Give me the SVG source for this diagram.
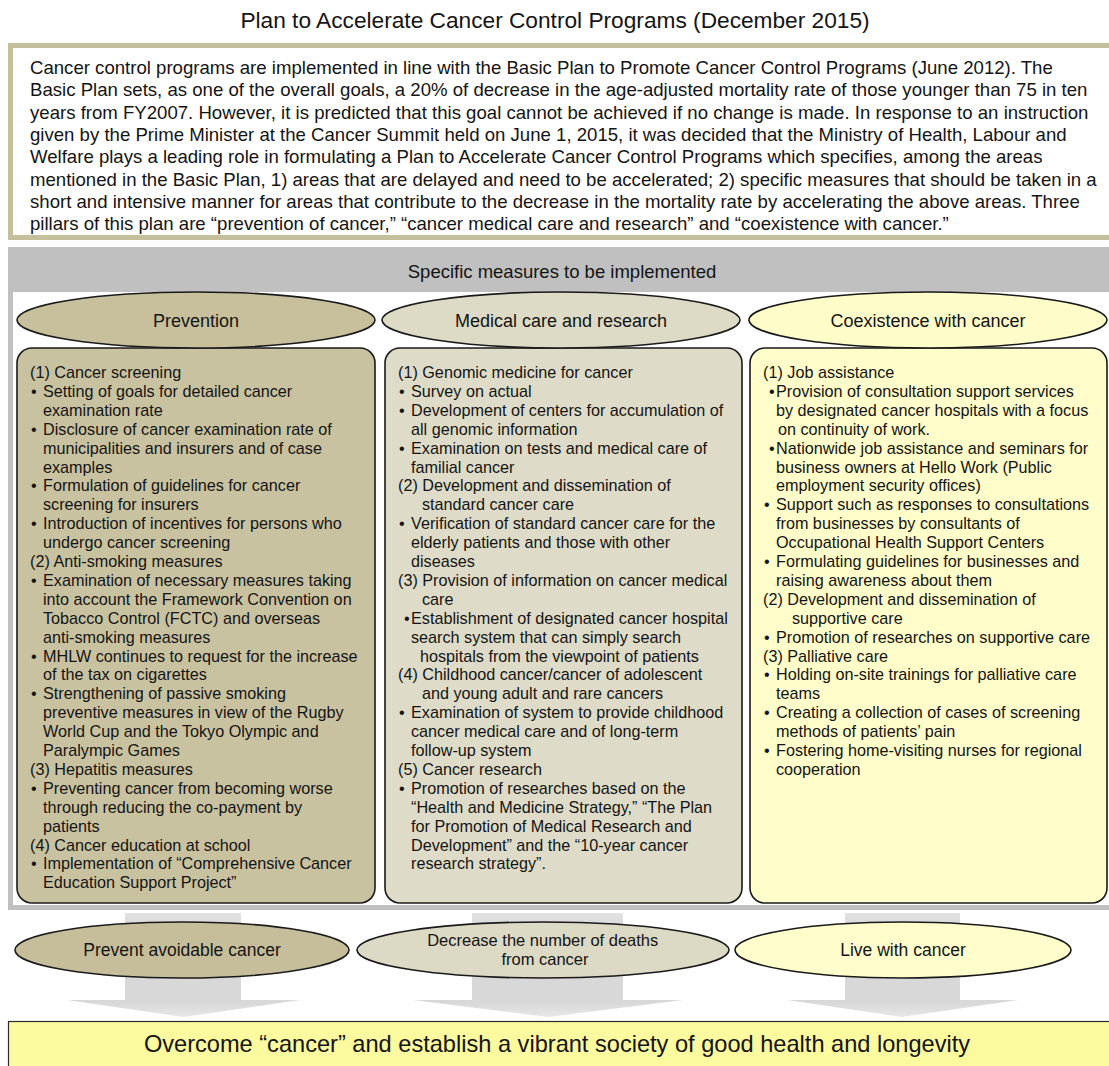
<svg xmlns="http://www.w3.org/2000/svg" width="1109" height="1066" viewBox="0 0 1109 1066">
  <defs>
    <style>
      .t { font-family: "Liberation Sans", Arial, sans-serif; fill: #141414; }
      .title { font-size: 22.7px; }
      .intro { font-size: 18.6px; }
      .hdr { font-size: 18.5px; }
      .pill { font-size: 18px; }
      .body { font-size: 16.2px; }
      .goal { font-size: 17.5px; }
      .goal2 { font-size: 16.5px; }
      .final { font-size: 23.6px; }
      .ell { stroke: #1a1a1a; stroke-width: 1.6; }
      .box { stroke: #1a1a1a; stroke-width: 1.6; }
      .arrow { fill: url(#arrowFill); }
    </style>
    <linearGradient id="arrowFill" x1="0" y1="0" x2="0" y2="1">
      <stop offset="0" stop-color="#e2e2e2"/>
      <stop offset="0.15" stop-color="#d8d8d8"/>
      <stop offset="0.85" stop-color="#d8d8d8"/>
      <stop offset="1" stop-color="#e6e6e6"/>
    </linearGradient>
  </defs>

  <rect x="0" y="0" width="1109" height="1066" fill="#ffffff"/>

  <!-- heading -->
  <text class="t title" x="555" y="28" text-anchor="middle">Plan to Accelerate Cancer Control Programs (December 2015)</text>

  <!-- summary paragraph -->
  <g id="summary">
    <rect x="10.5" y="45.5" width="1110" height="192" fill="#ffffff" stroke="#c6bf9b" stroke-width="5"/>
    <text class="t intro">
      <tspan x="30" y="74">Cancer control programs are implemented in line with the Basic Plan to Promote Cancer Control Programs (June 2012). The</tspan>
      <tspan x="30" y="96.3">Basic Plan sets, as one of the overall goals, a 20% of decrease in the age-adjusted mortality rate of those younger than 75 in ten</tspan>
      <tspan x="30" y="118.6">years from FY2007. However, it is predicted that this goal cannot be achieved if no change is made. In response to an instruction</tspan>
      <tspan x="30" y="140.9">given by the Prime Minister at the Cancer Summit held on June 1, 2015, it was decided that the Ministry of Health, Labour and</tspan>
      <tspan x="30" y="163.2">Welfare plays a leading role in formulating a Plan to Accelerate Cancer Control Programs which specifies, among the areas</tspan>
      <tspan x="30" y="185.5">mentioned in the Basic Plan, 1) areas that are delayed and need to be accelerated; 2) specific measures that should be taken in a</tspan>
      <tspan x="30" y="207.8">short and intensive manner for areas that contribute to the decrease in the mortality rate by accelerating the above areas. Three</tspan>
      <tspan x="30" y="230.1">pillars of this plan are “prevention of cancer,” “cancer medical care and research” and “coexistence with cancer.”</tspan>
    </text>
  </g>

  <!-- frame around the specific measures -->
  <g id="measures-frame">
    <rect x="8" y="247" width="1120" height="663" fill="#c0c0c0"/>
    <rect x="13" y="292" width="1110" height="613" fill="#ffffff"/>
    <text class="t hdr" x="562" y="278" text-anchor="middle">Specific measures to be implemented</text>
  </g>

  <!-- connectors: wide arrows from the measures down to the goal -->
  <g id="connectors">
    <polygon class="arrow" points="125,913 241,913 241,1000 300,1000 183.5,1017 67,1000 125,1000"/>
    <polygon class="arrow" points="472,913 623,913 623,1000 683,1000 548,1017 413,1000 472,1000"/>
    <polygon class="arrow" points="845,913 960,913 960,1000 1018,1000 902,1017 787,1000 845,1000"/>
  </g>

  <!-- pillar 1 -->
  <g id="prevention">
    <rect class="box" x="17" y="348" width="358" height="555" rx="15" fill="#c9c2a0"/>
    <ellipse class="ell" cx="196" cy="320" rx="179" ry="28" fill="#c8c09c"/>
    <text class="t pill" x="196" y="326.5" text-anchor="middle">Prevention</text>
    <text class="t body">
      <tspan x="30" y="378">(1) Cancer screening</tspan>
      <tspan x="31" y="396.9">•</tspan><tspan x="43" y="396.9">Setting of goals for detailed cancer</tspan>
      <tspan x="43" y="415.8">examination rate</tspan>
      <tspan x="31" y="434.7">•</tspan><tspan x="43" y="434.7">Disclosure of cancer examination rate of</tspan>
      <tspan x="43" y="453.6">municipalities and insurers and of case</tspan>
      <tspan x="43" y="472.5">examples</tspan>
      <tspan x="31" y="491.4">•</tspan><tspan x="43" y="491.4">Formulation of guidelines for cancer</tspan>
      <tspan x="43" y="510.3">screening for insurers</tspan>
      <tspan x="31" y="529.2">•</tspan><tspan x="43" y="529.2">Introduction of incentives for persons who</tspan>
      <tspan x="43" y="548.1">undergo cancer screening</tspan>
      <tspan x="30" y="567">(2) Anti-smoking measures</tspan>
      <tspan x="31" y="585.9">•</tspan><tspan x="43" y="585.9">Examination of necessary measures taking</tspan>
      <tspan x="43" y="604.8">into account the Framework Convention on</tspan>
      <tspan x="43" y="623.7">Tobacco Control (FCTC) and overseas</tspan>
      <tspan x="43" y="642.6">anti-smoking measures</tspan>
      <tspan x="31" y="661.5">•</tspan><tspan x="43" y="661.5">MHLW continues to request for the increase</tspan>
      <tspan x="43" y="680.4">of the tax on cigarettes</tspan>
      <tspan x="31" y="699.3">•</tspan><tspan x="43" y="699.3">Strengthening of passive smoking</tspan>
      <tspan x="43" y="718.2">preventive measures in view of the Rugby</tspan>
      <tspan x="43" y="737.1">World Cup and the Tokyo Olympic and</tspan>
      <tspan x="43" y="756">Paralympic Games</tspan>
      <tspan x="30" y="774.9">(3) Hepatitis measures</tspan>
      <tspan x="31" y="793.8">•</tspan><tspan x="43" y="793.8">Preventing cancer from becoming worse</tspan>
      <tspan x="43" y="812.7">through reducing the co-payment by</tspan>
      <tspan x="43" y="831.6">patients</tspan>
      <tspan x="30" y="850.5">(4) Cancer education at school</tspan>
      <tspan x="31" y="869.4">•</tspan><tspan x="43" y="869.4">Implementation of “Comprehensive Cancer</tspan>
      <tspan x="43" y="888.3">Education Support Project”</tspan>
    </text>
  </g>

  <!-- pillar 2 -->
  <g id="medical-care">
    <rect class="box" x="385" y="348" width="357" height="555" rx="15" fill="#dedcc8"/>
    <ellipse class="ell" cx="561" cy="320" rx="179" ry="28" fill="#dddac6"/>
    <text class="t pill" x="561" y="326.5" text-anchor="middle">Medical care and research</text>
    <text class="t body">
      <tspan x="398" y="378">(1) Genomic medicine for cancer</tspan>
      <tspan x="399" y="396.9">•</tspan><tspan x="411" y="396.9">Survey on actual</tspan>
      <tspan x="399" y="415.8">•</tspan><tspan x="411" y="415.8">Development of centers for accumulation of</tspan>
      <tspan x="411" y="434.7">all genomic information</tspan>
      <tspan x="399" y="453.6">•</tspan><tspan x="411" y="453.6">Examination on tests and medical care of</tspan>
      <tspan x="411" y="472.5">familial cancer</tspan>
      <tspan x="398" y="491.4">(2) Development and dissemination of</tspan>
      <tspan x="422" y="510.3">standard cancer care</tspan>
      <tspan x="399" y="529.2">•</tspan><tspan x="411" y="529.2">Verification of standard cancer care for the</tspan>
      <tspan x="411" y="548.1">elderly patients and those with other</tspan>
      <tspan x="411" y="567">diseases</tspan>
      <tspan x="398" y="585.9">(3) Provision of information on cancer medical</tspan>
      <tspan x="422" y="604.8">care</tspan>
      <tspan x="404" y="623.7">•</tspan><tspan x="411" y="623.7">Establishment of designated cancer hospital</tspan>
      <tspan x="411" y="642.6">search system that can simply search</tspan>
      <tspan x="420" y="661.5">hospitals from the viewpoint of patients</tspan>
      <tspan x="398" y="680.4">(4) Childhood cancer/cancer of adolescent</tspan>
      <tspan x="422" y="699.3">and young adult and rare cancers</tspan>
      <tspan x="399" y="718.2">•</tspan><tspan x="411" y="718.2">Examination of system to provide childhood</tspan>
      <tspan x="411" y="737.1">cancer medical care and of long-term</tspan>
      <tspan x="411" y="756">follow-up system</tspan>
      <tspan x="398" y="774.9">(5) Cancer research</tspan>
      <tspan x="399" y="793.8">•</tspan><tspan x="411" y="793.8">Promotion of researches based on the</tspan>
      <tspan x="411" y="812.7">“Health and Medicine Strategy,” “The Plan</tspan>
      <tspan x="411" y="831.6">for Promotion of Medical Research and</tspan>
      <tspan x="411" y="850.5">Development” and the “10-year cancer</tspan>
      <tspan x="411" y="869.4">research strategy”.</tspan>
    </text>
  </g>

  <!-- pillar 3 -->
  <g id="coexistence">
    <rect class="box" x="750" y="348" width="357" height="555" rx="15" fill="#fffdc9"/>
    <ellipse class="ell" cx="928" cy="320" rx="179" ry="28" fill="#fefdca"/>
    <text class="t pill" x="928" y="326.5" text-anchor="middle">Coexistence with cancer</text>
    <text class="t body">
      <tspan x="763" y="378">(1) Job assistance</tspan>
      <tspan x="769" y="396.9">•</tspan><tspan x="776" y="396.9">Provision of consultation support services</tspan>
      <tspan x="776" y="415.8">by designated cancer hospitals with a focus</tspan>
      <tspan x="778" y="434.7">on continuity of work.</tspan>
      <tspan x="769" y="453.6">•</tspan><tspan x="776" y="453.6">Nationwide job assistance and seminars for</tspan>
      <tspan x="776" y="472.5">business owners at Hello Work (Public</tspan>
      <tspan x="776" y="491.4">employment security offices)</tspan>
      <tspan x="764" y="510.3">•</tspan><tspan x="776" y="510.3">Support such as responses to consultations</tspan>
      <tspan x="776" y="529.2">from businesses by consultants of</tspan>
      <tspan x="776" y="548.1">Occupational Health Support Centers</tspan>
      <tspan x="764" y="567">•</tspan><tspan x="776" y="567">Formulating guidelines for businesses and</tspan>
      <tspan x="776" y="585.9">raising awareness about them</tspan>
      <tspan x="763" y="604.8">(2) Development and dissemination of</tspan>
      <tspan x="792" y="623.7">supportive care</tspan>
      <tspan x="764" y="642.6">•</tspan><tspan x="776" y="642.6">Promotion of researches on supportive care</tspan>
      <tspan x="763" y="661.5">(3) Palliative care</tspan>
      <tspan x="764" y="680.4">•</tspan><tspan x="776" y="680.4">Holding on-site trainings for palliative care</tspan>
      <tspan x="776" y="699.3">teams</tspan>
      <tspan x="764" y="718.2">•</tspan><tspan x="776" y="718.2">Creating a collection of cases of screening</tspan>
      <tspan x="776" y="737.1">methods of patients’ pain</tspan>
      <tspan x="764" y="756">•</tspan><tspan x="776" y="756">Fostering home-visiting nurses for regional</tspan>
      <tspan x="776" y="774.9">cooperation</tspan>
    </text>
  </g>

  <!-- outcomes -->
  <g id="goal-prevent">
    <ellipse class="ell" cx="182" cy="950" rx="167" ry="28" fill="#c6be9a"/>
    <text class="t goal" x="182" y="956" text-anchor="middle">Prevent avoidable cancer</text>
  </g>
  <g id="goal-decrease">
    <ellipse class="ell" cx="543" cy="950" rx="186" ry="28" fill="#dcd9c5"/>
    <text class="t goal2" text-anchor="middle">
      <tspan x="545" y="946">Decrease the number of deaths</tspan>
      <tspan x="545" y="964.5">from cancer</tspan>
    </text>
  </g>
  <g id="goal-live">
    <ellipse class="ell" cx="903" cy="950" rx="168" ry="28" fill="#fffdcb"/>
    <text class="t goal" x="903" y="956" text-anchor="middle">Live with cancer</text>
  </g>

  <!-- overall aim -->
  <g id="overall-aim">
    <rect x="8.5" y="1021.5" width="1110" height="60" fill="#fcfa9f" stroke="#2a2a2a" stroke-width="1.2"/>
    <text class="t final" x="557" y="1052" text-anchor="middle">Overcome “cancer” and establish a vibrant society of good health and longevity</text>
  </g>
</svg>
